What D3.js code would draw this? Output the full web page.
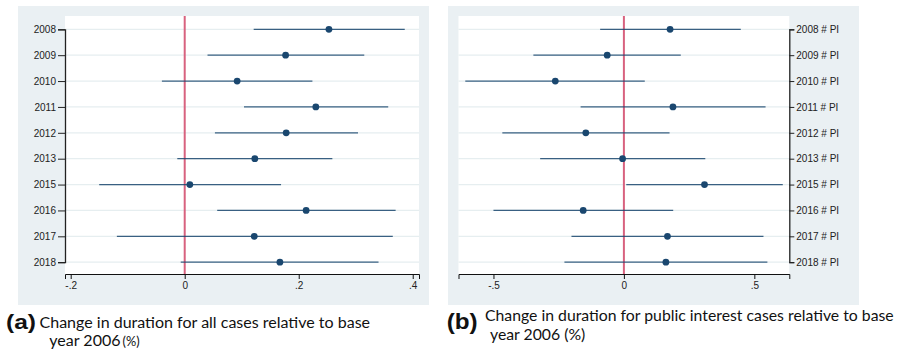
<!DOCTYPE html>
<html>
<head>
<meta charset="utf-8">
<script src="https://cdn.jsdelivr.net/npm/d3@7"></script>
<style>
  body { margin: 0; background: #fff; }
  svg { display: block; }
  .tick text { font-family: "Liberation Sans", Arial, sans-serif; font-size: 10px; fill: #222; }
  .cap { font-family: Lato, "Noto Sans", sans-serif; fill: #111; }
  .lab { font-family: "Liberation Sans", Arial, sans-serif; font-weight: bold; fill: #111; }
</style>
</head>
<body>
<svg id="chart" width="898" height="354"></svg>
<script>
// years on the y axis
let years = ['2008', '2009', '2010', '2011', '2012', '2013', '2015', '2016', '2017', '2018'];

// (a) all cases: estimate + 95% CI
let allEst = [0.253, 0.177, 0.092, 0.230, 0.178, 0.123, 0.009, 0.213, 0.122, 0.167];
let allLo  = [0.121, 0.040, -0.040, 0.104, 0.053, -0.013, -0.150, 0.057, -0.119, -0.007];
let allHi  = [0.386, 0.315, 0.224, 0.357, 0.304, 0.259, 0.169, 0.370, 0.365, 0.340];

// (b) public interest cases
let piEst = [0.177, -0.064, -0.263, 0.188, -0.146, -0.005, 0.309, -0.156, 0.167, 0.161];
let piLo  = [-0.091, -0.347, -0.608, -0.166, -0.466, -0.321, 0.009, -0.500, -0.201, -0.228];
let piHi  = [0.448, 0.218, 0.080, 0.543, 0.175, 0.312, 0.609, 0.189, 0.535, 0.550];

let ticksA = [-0.2, 0, 0.2, 0.4];
let ticksB = [-0.5, 0, 0.5];

let svg = d3.select('#chart');
let navy = '#1a476f';

function fmt(d) {
    if (d === 0) return '0';
    return (d < 0 ? '-' : '') + String(Math.abs(d)).replace(/^0/, '');
}

function drawPanel(opt) {
    let g = svg.append('g');
    // outer grey-blue region
    g.append('rect').attr('x', opt.bg[0]).attr('y', 6)
        .attr('width', opt.bg[1] - opt.bg[0]).attr('height', 299)
        .attr('fill', '#eaf0f3');
    // white plot region
    g.append('rect').attr('x', opt.plot[0]).attr('y', 16)
        .attr('width', opt.plot[1] - opt.plot[0]).attr('height', 258)
        .attr('fill', '#fff');

    let x = d3.scaleLinear().domain(opt.domain).range(opt.plot);
    let y = d3.scalePoint().domain(opt.labels).range([29.3, 262.2]);

    // light grid
    g.append('g').selectAll('line')
      .data(opt.labels)
      .enter().append('line')
        .attr('x1', opt.plot[0]).attr('x2', opt.plot[1])
        .attr('y1', d => y(d)).attr('y2', d => y(d))
        .attr('stroke', '#e6eef0').attr('stroke-width', 1.2);

    // zero line
    g.append('line')
        .attr('x1', x(0)).attr('x2', x(0)).attr('y1', 16).attr('y2', 274)
        .attr('stroke', '#d8627f').attr('stroke-width', 2);

    let rows = opt.labels.map((l, i) => ({l: l, est: opt.est[i], lo: opt.lo[i], hi: opt.hi[i]}));

    g.append('g').selectAll('line')
      .data(rows)
      .enter().append('line')
        .attr('x1', d => x(d.lo)).attr('x2', d => x(d.hi))
        .attr('y1', d => y(d.l)).attr('y2', d => y(d.l))
        .attr('stroke', navy).attr('stroke-opacity', 0.85).attr('stroke-width', 1.2);

    g.append('g').selectAll('circle')
      .data(rows)
      .enter().append('circle')
        .attr('cx', d => x(d.est)).attr('cy', d => y(d.l))
        .attr('r', 3.4).attr('fill', navy);

    // axes
    let xa = g.append('g').attr('transform', 'translate(0,274)')
        .call(d3.axisBottom(x).tickValues(opt.ticks).tickFormat(fmt).tickSize(5).tickPadding(3));
    xa.select('.domain').attr('stroke', '#111');
    xa.selectAll('.tick line').attr('stroke', '#111');

    let ya;
    if (opt.side == 'left') {
        ya = g.append('g').attr('transform', 'translate(' + opt.plot[0] + ',0)')
            .call(d3.axisLeft(y).tickSize(7).tickPadding(2));
    } else {
        ya = g.append('g').attr('transform', 'translate(' + opt.plot[1] + ',0)')
            .call(d3.axisRight(y).tickSize(5).tickPadding(2));
    }
    ya.select('.domain').attr('stroke', '#222').attr('stroke-width', 1.3);
    ya.selectAll('.tick line').attr('stroke', '#222');
}

drawPanel({
    bg: [18, 429], plot: [65, 419], domain: [-0.21, 0.411],
    labels: years, est: allEst, lo: allLo, hi: allHi, ticks: ticksA, side: 'left'
});

drawPanel({
    bg: [448, 859], plot: [458.5, 789.3], domain: [-0.634, 0.634],
    labels: years.map(d => d + ' # PI'), est: piEst, lo: piLo, hi: piHi, ticks: ticksB, side: 'right'
});

// captions
function fit(t, w) {
    let len = t.node().getComputedTextLength();
    let fs = parseFloat(t.attr('font-size'));
    let nfs = fs * w / len;
    t.attr('font-size', nfs);
    return nfs;
}

svg.append('text').attr('class', 'lab').attr('x', 6).attr('y', 329)
    .attr('font-size', 21).attr('textLength', 30).attr('lengthAdjust', 'spacingAndGlyphs').text('(a)');
let a1 = svg.append('text').attr('class', 'cap').attr('x', 39.5).attr('y', 327.5)
    .attr('font-size', 14).text('Change in duration for all cases relative to base');
let fa = fit(a1, 331);
let a2 = svg.append('text').attr('class', 'cap').attr('x', 49.3).attr('y', 345.5)
    .attr('font-size', fa);
a2.append('tspan').text('year 2006');
a2.append('tspan').attr('dx', 2).attr('font-size', fa * 0.8).text('(%)');

svg.append('text').attr('class', 'lab').attr('x', 446.7).attr('y', 329)
    .attr('font-size', 22).attr('textLength', 31).attr('lengthAdjust', 'spacingAndGlyphs').text('(b)');
let b1 = svg.append('text').attr('class', 'cap').attr('x', 485).attr('y', 321)
    .attr('font-size', 14).text('Change in duration for public interest cases relative to base');
let fb = fit(b1, 409);
svg.append('text').attr('class', 'cap').attr('x', 490).attr('y', 339.5)
    .attr('font-size', fb).text('year 2006 (%)');
</script>
</body>
</html>
